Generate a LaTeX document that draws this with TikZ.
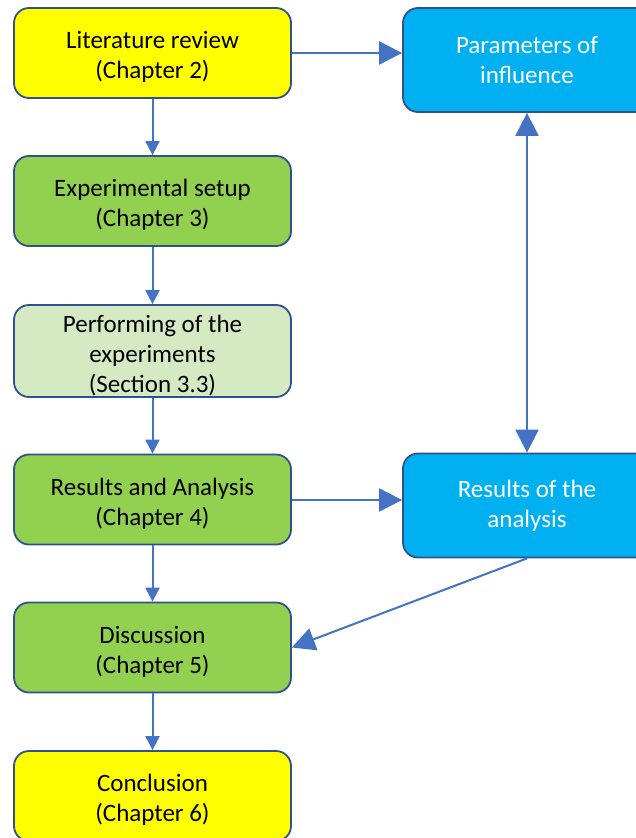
\documentclass[tikz,border=0pt]{standalone}
\usepackage{fontspec}
\setmainfont{Carlito}
\usetikzlibrary{arrows.meta}
\definecolor{boxyellow}{HTML}{FFFF00}
\definecolor{boxgreen}{HTML}{92D050}
\definecolor{boxlight}{HTML}{D5EAC2}
\definecolor{boxblue}{HTML}{00B0F0}
\definecolor{edgeblue}{HTML}{2F528F}
\definecolor{arrowblue}{HTML}{4472C4}
\newcommand{\topfix}{\rule{0pt}{26pt}}
\tikzset{
  box/.style={draw=edgeblue, line width=1.8pt, rounded corners=15pt, align=center,
    minimum width=277pt, minimum height=90pt, inner sep=0pt,
    font=\fontsize{25}{30}\selectfont, text=black},
  bluebox/.style={box, fill=boxblue, text=white, minimum width=248pt, minimum height=104pt},
  conn/.style={draw=arrowblue, line width=2pt},
  small/.style={-{Triangle[length=14pt,width=14pt]}},
  big/.style={-{Triangle[length=23pt,width=23pt]}},
}
\begin{document}
\begin{tikzpicture}[x=1pt,y=-1pt]
\useasboundingbox (0,0) rectangle (636,838);
\node[box, fill=boxyellow] (lit) at (152.5,53) {\topfix Literature review\\(Chapter 2)};
\node[box, fill=boxgreen] (exp) at (152.5,201) {\topfix Experimental setup\\(Chapter 3)};
\node[box, fill=boxlight, minimum height=92pt] (perf) at (152.5,351) {\topfix Performing of the\\experiments\\(Section 3.3)};
\node[box, fill=boxgreen] (res) at (152.5,499.5) {\topfix Results and Analysis\\(Chapter 4)};
\node[box, fill=boxgreen] (disc) at (152.5,647.5) {\topfix Discussion\\(Chapter 5)};
\node[box, fill=boxyellow] (conc) at (152.5,796) {\topfix Conclusion\\(Chapter 6)};
\node[bluebox] (par) at (527,60) {Parameters of\\influence};
\node[bluebox] (roa) at (527,505.5) {Results of the\\analysis};
\draw[conn, small] (lit) -- (exp);
\draw[conn, small] (exp) -- (perf);
\draw[conn, small] (perf) -- (res);
\draw[conn, small] (res) -- (disc);
\draw[conn, small] (disc) -- (conc);
\draw[conn, big] (lit.east |- 0,53) -- (par.west |- 0,53);
\draw[conn, big] (res.east |- 0,500) -- (roa.west |- 0,500);
\draw[conn, {Triangle[length=23pt,width=23pt]}-{Triangle[length=23pt,width=23pt]}] (par) -- (roa);
\draw[conn, big] (roa.south) -- (disc.east);
\end{tikzpicture}
\end{document}
